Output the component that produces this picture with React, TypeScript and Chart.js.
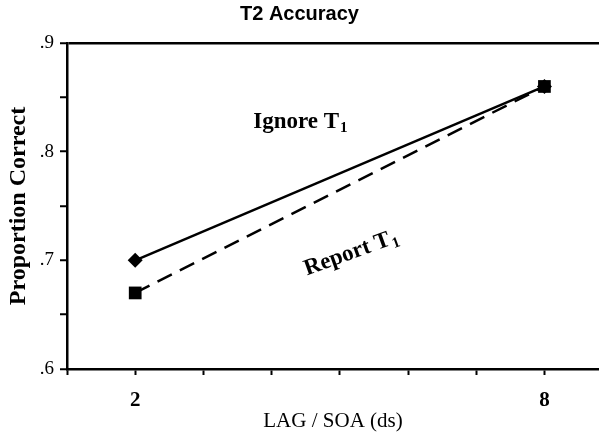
import React, { useEffect, useRef } from "react";
import { Chart, registerables } from "chart.js";

Chart.register(...registerables);

const lagValues = [2, 8];
const ignoreT1 = [0.7, 0.86];
const reportT1 = [0.67, 0.86];
const yLabeledTicks = [0.6, 0.7, 0.8, 0.9];
const xLabeledTicks = [2, 8];

const SERIF = '"Liberation Serif", "Times New Roman", serif';
const SANS = '"Liberation Sans", Arial, sans-serif';

function drawSubText(ctx: CanvasRenderingContext2D, main: string, sub: string, px: number, py: number, angle: number) {
  ctx.save();
  ctx.translate(px, py);
  ctx.rotate(angle);
  ctx.fillStyle = "#000";
  ctx.textBaseline = "alphabetic";
  ctx.textAlign = "left";
  ctx.font = `bold 23px ${SERIF}`;
  ctx.fillText(main, 0, 0);
  const w = ctx.measureText(main).width;
  ctx.font = `bold 15px ${SERIF}`;
  ctx.fillText(sub, w + 1, 4);
  ctx.restore();
}

const annotationPlugin = {
  id: "annot",
  afterDatasetsDraw(chart: any) {
    const { ctx, scales } = chart;
    const x = scales.x;
    const y = scales.y;
    drawSubText(ctx, "Ignore T", "1", x.getPixelForValue(3.73), y.getPixelForValue(0.822), 0);
    drawSubText(ctx, "Report T", "1", x.getPixelForValue(4.52), y.getPixelForValue(0.686), (-20 * Math.PI) / 180);
  },
};

export default function App() {
  const ref = useRef<HTMLCanvasElement | null>(null);
  useEffect(() => {
    document.body.style.margin = "0";
    if (!ref.current) return;
    const isLabeled = (v: number, list: number[]) => list.some((t) => Math.abs(t - v) < 1e-6);
    const chart = new Chart(ref.current, {
      type: "line",
      data: {
        datasets: [
          {
            label: "Report T1",
            data: lagValues.map((v, i) => ({ x: v, y: reportT1[i] })),
            borderColor: "#000",
            backgroundColor: "#000",
            borderWidth: 2.5,
            borderDash: [16, 9],
            pointStyle: "rect",
            pointRadius: 9,
            pointBorderWidth: 0,
          },
          {
            label: "Ignore T1",
            data: lagValues.map((v, i) => ({ x: v, y: ignoreT1[i] })),
            borderColor: "#000",
            backgroundColor: "#000",
            borderWidth: 2.5,
            pointStyle: "rectRot",
            pointRadius: 7.5,
            pointBorderWidth: 0,
          },
        ],
      },
      options: {
        animation: false,
        responsive: false,
        layout: { autoPadding: false, padding: { left: 0, right: 0, top: 0, bottom: 0 } },
        plugins: {
          legend: { display: false },
          tooltip: { enabled: false },
          title: {
            display: true,
            text: "T2 Accuracy",
            color: "#000",
            font: { family: SANS, size: 20, weight: "bold" },
            padding: { top: 2, bottom: 17 },
          },
        },
        scales: {
          x: {
            type: "linear",
            min: 1,
            max: 8.8,
            afterFit: (s: any) => {
              s.height = 65;
              s.paddingLeft = 0;
              s.paddingRight = 0;
            },
            border: { display: true, color: "#000", width: 2.5 },
            grid: { drawOnChartArea: false, tickLength: 6, tickColor: "#000", tickWidth: 2 },
            ticks: {
              stepSize: 1,
              includeBounds: false,
              color: "#000",
              padding: 13,
              maxRotation: 0,
              autoSkip: false,
              font: { family: SERIF, size: 21, weight: "bold" },
              callback: (v: any) => (isLabeled(Number(v), xLabeledTicks) ? String(v) : ""),
            },
            title: {
              display: true,
              text: "LAG / SOA (ds)",
              color: "#000",
              font: { family: SERIF, size: 21 },
              padding: { top: 0, bottom: 0 },
            },
          },
          y: {
            type: "linear",
            min: 0.6,
            max: 0.9,
            afterFit: (s: any) => {
              s.width = 67;
            },
            border: { display: true, color: "#000", width: 2.5 },
            grid: {
              drawOnChartArea: true,
              color: (c: any) => (c.tick && Math.abs(c.tick.value - 0.9) < 1e-6 ? "#000" : "rgba(0,0,0,0)"),
              lineWidth: 2.5,
              tickLength: 7,
              tickColor: "#000",
              tickWidth: 2,
            },
            ticks: {
              stepSize: 0.05,
              color: "#000",
              padding: 6,
              autoSkip: false,
              font: { family: SERIF, size: 19 },
              callback: (v: any) => (isLabeled(Number(v), yLabeledTicks) ? Number(v).toFixed(1).replace(/^0/, "") : ""),
            },
            title: {
              display: true,
              text: "Proportion Correct",
              color: "#000",
              font: { family: SERIF, size: 24, weight: "bold" },
              padding: { top: 4, bottom: 0 },
            },
          },
        },
      },
      plugins: [annotationPlugin],
    } as any);
    return () => chart.destroy();
  }, []);
  return (
    <div style={{ width: 599, height: 434 }}>
      <canvas ref={ref} width={599} height={434} />
    </div>
  );
}
